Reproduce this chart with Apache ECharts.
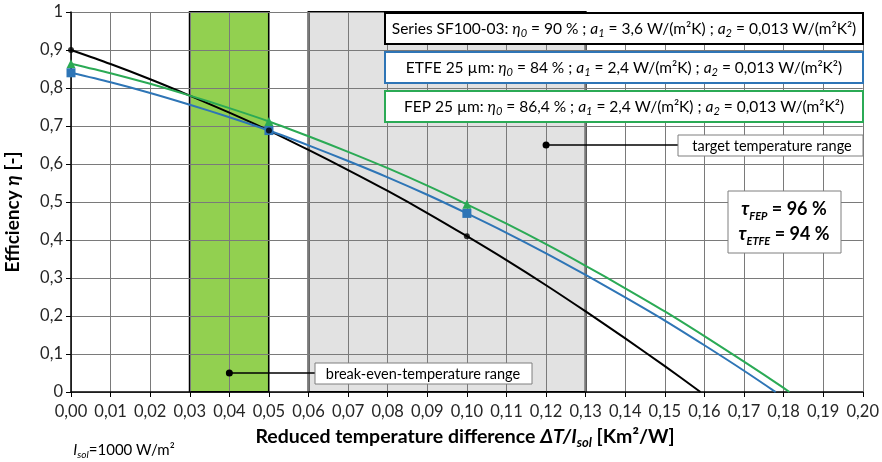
<!DOCTYPE html>
<html><head><meta charset="utf-8">
<script src="https://cdn.jsdelivr.net/npm/echarts@6/dist/echarts.min.js"></script>
<style>html,body{margin:0;padding:0;background:#fff}#c{width:882px;height:462px}</style>
</head><body><div id="c"></div>
<script>
// ---- data ----
const xSF   = [0,0.01,0.02,0.03,0.04,0.05,0.06,0.07,0.08,0.09,0.10,0.11,0.12,0.13,0.14,0.15,0.159];
const etaSF = [0.900,0.863,0.823,0.780,0.735,0.688,0.637,0.584,0.529,0.471,0.410,0.347,0.281,0.212,0.141,0.068,0.000];
const xETFE   = [0,0.01,0.02,0.03,0.04,0.05,0.06,0.07,0.08,0.09,0.10,0.11,0.12,0.13,0.14,0.15,0.16,0.17,0.178];
const etaETFE = [0.840,0.815,0.787,0.756,0.723,0.688,0.649,0.608,0.565,0.519,0.470,0.419,0.365,0.308,0.249,0.188,0.123,0.056,0.000];
const xFEP   = [0,0.01,0.02,0.03,0.04,0.05,0.06,0.07,0.08,0.09,0.10,0.11,0.12,0.13,0.14,0.15,0.16,0.17,0.18,0.1815];
const etaFEP = [0.864,0.839,0.811,0.780,0.747,0.712,0.673,0.632,0.589,0.543,0.494,0.443,0.389,0.332,0.273,0.212,0.147,0.080,0.011,0.000];
const markerX = [0,0.05,0.10];
const markSF   = [0.900,0.688,0.410];
const markETFE = [0.840,0.688,0.470];
const markFEP  = [0.864,0.712,0.494];
const ranges = [[0.03,0.05,'#92D050'],[0.06,0.13,'#E2E2E2']]; // break-even, target
const breakEvenPoint = [0.04,0.05];
const targetPoint = [0.12,0.65];

const FONT = 'Lato';
const pair = (xs, ys) => xs.map((x,i)=>[x, ys[i]]);

const chart = echarts.init(document.getElementById('c'));
const option = {
  animation:false,
  textStyle:{fontFamily:FONT},
  grid:{left:71,right:19,top:12,bottom:70},
  xAxis:{type:'value',min:0,max:0.2,interval:0.01,z:1,
    axisLine:{onZero:false,lineStyle:{color:'#000',width:1.5}},
    axisTick:{show:true,length:5,lineStyle:{color:'#000'}},
    axisLabel:{margin:11,fontSize:16.5,color:'#262626',fontFamily:FONT,formatter:v=>v.toFixed(2).replace('.',',')},
    splitLine:{show:true,lineStyle:{color:'#7a7a7a',width:1}}},
  yAxis:{type:'value',min:0,max:1,interval:0.1,z:1,
    axisLine:{show:true,lineStyle:{color:'#000',width:1.5}},
    axisTick:{show:true,length:5,lineStyle:{color:'#000'}},
    axisLabel:{margin:8,fontSize:16.5,color:'#262626',fontFamily:FONT,
      formatter:v=> (Math.abs(v)<1e-9?'0':(Math.abs(v-1)<1e-9?'1':v.toFixed(1).replace('.',',')))},
    splitLine:{show:true,lineStyle:{color:'#7a7a7a',width:1}}},
  series:[
    {type:'custom',z:0,data:ranges,
      renderItem:(params,api)=>{
        const p0=api.coord([api.value(0),1]), p1=api.coord([api.value(1),0]);
        return {type:'rect',shape:{x:p0[0],y:p0[1],width:p1[0]-p0[0],height:p1[1]-p0[1]},
          style:{fill:ranges[params.dataIndex][2],stroke:'#000',lineWidth:2}};
      }},
    {type:'line',name:'SF',data:pair(xSF,etaSF),showSymbol:false,smooth:0.3,z:3,lineStyle:{color:'#000',width:2}},
    {type:'line',name:'ETFE',data:pair(xETFE,etaETFE),showSymbol:false,smooth:0.3,z:4,lineStyle:{color:'#2E75B6',width:2}},
    {type:'line',name:'FEP',data:pair(xFEP,etaFEP),showSymbol:false,smooth:0.3,z:5,lineStyle:{color:'#2BAA55',width:2}},
    {type:'scatter',data:pair(markerX,markFEP),symbol:'triangle',symbolSize:9,z:6,itemStyle:{color:'#2BAA55',opacity:1}},
    {type:'scatter',data:pair(markerX,markETFE),symbol:'rect',symbolSize:9,z:7,itemStyle:{color:'#2E75B6',opacity:1}},
    {type:'scatter',data:pair(markerX,markSF),symbol:'circle',symbolSize:6,z:8,itemStyle:{color:'#000',opacity:0.8}},
    {type:'scatter',data:[breakEvenPoint,targetPoint],symbol:'circle',symbolSize:7,z:8,itemStyle:{color:'#000',opacity:1}}
  ]
};
chart.setOption(option);

const be = chart.convertToPixel({gridIndex:0}, breakEvenPoint);
const tg = chart.convertToPixel({gridIndex:0}, targetPoint);

const LF = 15.5;
function legendBox(y, color, text){
  return {type:'group',children:[
    {type:'rect',shape:{x:385,y:y,width:478,height:31},style:{fill:'#fff',stroke:color,lineWidth:2},z:20},
    {type:'text',x:624,y:y+16,z:21,style:{text:text,fontFamily:FONT,fontSize:LF,fill:'#000',align:'center',verticalAlign:'middle',
      rich:{n:{fontSize:LF,fontFamily:FONT,lineHeight:20},
            i:{fontSize:LF,fontStyle:'italic',fontFamily:FONT,lineHeight:20},
            s:{fontSize:11,fontStyle:'italic',fontFamily:FONT,lineHeight:20,verticalAlign:'bottom',padding:[7,0,0,0]}}}}
  ]};
}
const graphics = [
  legendBox(13,'#000','{n|Series SF100-03: }{i|η}{s|0}{n| = 90 % ; }{i|a}{s|1}{n| = 3,6 W/(m²K) ; }{i|a}{s|2}{n| = 0,013 W/(m²K²)}'),
  legendBox(52,'#2E75B6','{n|ETFE 25 µm: }{i|η}{s|0}{n| = 84 % ; }{i|a}{s|1}{n| = 2,4 W/(m²K) ; }{i|a}{s|2}{n| = 0,013 W/(m²K²)}'),
  legendBox(91,'#2BAA55','{n|FEP 25 µm: }{i|η}{s|0}{n| = 86,4 % ; }{i|a}{s|1}{n| = 2,4 W/(m²K) ; }{i|a}{s|2}{n| = 0,013 W/(m²K²)}'),
  // target range annotation
  {type:'line',shape:{x1:tg[0],y1:tg[1],x2:678,y2:tg[1]},style:{stroke:'#000',lineWidth:1.5},z:15},
  {type:'rect',shape:{x:678,y:135,width:185,height:21},style:{fill:'#fff',stroke:'#7f7f7f',lineWidth:1},z:20},
  {type:'text',x:772,y:146,z:21,style:{text:'target temperature range',fontFamily:FONT,fontSize:14.5,fill:'#000',align:'center',verticalAlign:'middle'}},
  // break-even annotation
  {type:'line',shape:{x1:be[0],y1:be[1],x2:315,y2:be[1]},style:{stroke:'#000',lineWidth:1.5},z:15},
  {type:'rect',shape:{x:315,y:363,width:217,height:21},style:{fill:'#fff',stroke:'#7f7f7f',lineWidth:1},z:20},
  {type:'text',x:423,y:374,z:21,style:{text:'break-even-temperature range',fontFamily:FONT,fontSize:14.5,fill:'#000',align:'center',verticalAlign:'middle'}},
  // tau box
  {type:'rect',shape:{x:728,y:191,width:113,height:62},style:{fill:'#fff',stroke:'#7f7f7f',lineWidth:1},z:20},
  {type:'text',x:784,y:222,z:21,style:{text:'{t|τ}{ts|FEP}{b| = 96 %}\n{t|τ}{ts|ETFE}{b| = 94 %}',align:'center',verticalAlign:'middle',fontFamily:FONT,
    rich:{t:{fontSize:18,fontStyle:'italic',fontWeight:'bold',fontFamily:FONT,lineHeight:25},
          ts:{fontSize:11,fontStyle:'italic',fontWeight:'bold',fontFamily:FONT,lineHeight:25,verticalAlign:'bottom',padding:[8,0,0,0]},
          b:{fontSize:18,fontWeight:'bold',fontFamily:FONT,lineHeight:25}}}},
  // axis titles
  {type:'text',x:465,y:437,z:21,style:{text:'{b|Reduced temperature difference }{bi|ΔT/I}{bs|sol}{b| [Km²/W]}',align:'center',verticalAlign:'middle',fontFamily:FONT,
    rich:{b:{fontSize:19.5,fontWeight:'bold',fontFamily:FONT,lineHeight:24},
          bi:{fontSize:19.5,fontWeight:'bold',fontStyle:'italic',fontFamily:FONT,lineHeight:24},
          bs:{fontSize:13,fontWeight:'bold',fontStyle:'italic',fontFamily:FONT,lineHeight:24,verticalAlign:'bottom',padding:[8,0,0,0]}}}},
  {type:'text',x:13,y:212,rotation:Math.PI/2,z:21,style:{text:'{b|Efficiency }{bi|η}{b| [-]}',align:'center',verticalAlign:'middle',fontFamily:FONT,
    rich:{b:{fontSize:19,fontWeight:'bold',fontFamily:FONT},bi:{fontSize:19,fontWeight:'bold',fontStyle:'italic',fontFamily:FONT}}}},
  {type:'text',x:124,y:450,z:21,style:{text:'{i|I}{s|sol}{n|=1000 W/m²}',align:'center',verticalAlign:'middle',fontFamily:FONT,
    rich:{n:{fontSize:15,fontFamily:FONT,lineHeight:20},i:{fontSize:15,fontStyle:'italic',fontFamily:FONT,lineHeight:20},
          s:{fontSize:10,fontStyle:'italic',fontFamily:FONT,lineHeight:20,verticalAlign:'bottom',padding:[6,0,0,0]}}}}
];
chart.setOption({graphic:graphics});
</script></body></html>
